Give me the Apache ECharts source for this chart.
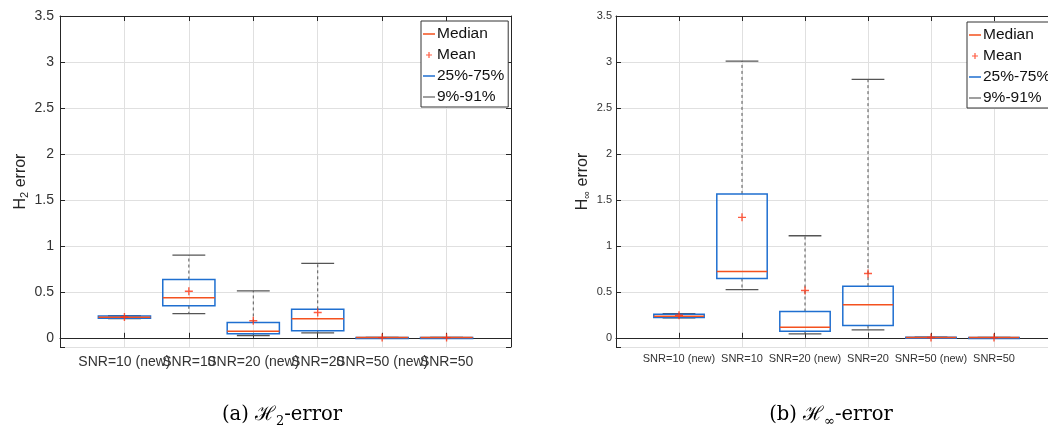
<!DOCTYPE html>
<html>
<head>
<meta charset="utf-8">
<script src="https://cdn.jsdelivr.net/npm/echarts@6/dist/echarts.min.js"></script>
<style>
html,body{margin:0;padding:0;background:#fff;}
#c{width:1048px;height:430px;}
</style>
</head>
<body>
<div id="c"></div>
<script>
const categories = ['SNR=10 (new)', 'SNR=10', 'SNR=20 (new)', 'SNR=20', 'SNR=50 (new)', 'SNR=50'];
const yTicks = [0, 0.5, 1, 1.5, 2, 2.5, 3, 3.5];

// (a) H2-error : 9%, 25%, median, 75%, 91%, mean
const h2Low    = [0.208, 0.264, 0.025, 0.054, 0.000, 0.000];
const h2Q1     = [0.212, 0.348, 0.043, 0.076, 0.001, 0.001];
const h2Median = [0.224, 0.435, 0.072, 0.207, 0.002, 0.002];
const h2Q3     = [0.237, 0.634, 0.167, 0.310, 0.003, 0.003];
const h2High   = [0.240, 0.900, 0.510, 0.810, 0.004, 0.004];
const h2Mean   = [0.226, 0.507, 0.185, 0.275, 0.002, 0.002];

// (b) Hinf-error
const hiLow    = [0.216, 0.525, 0.043, 0.087, 0.001, 0.000];
const hiQ1     = [0.221, 0.645, 0.072, 0.134, 0.002, 0.001];
const hiMedian = [0.235, 0.720, 0.116, 0.359, 0.004, 0.002];
const hiQ3     = [0.257, 1.565, 0.286, 0.562, 0.006, 0.004];
const hiHigh   = [0.264, 3.010, 1.110, 2.810, 0.008, 0.005];
const hiMean   = [0.245, 1.310, 0.514, 0.700, 0.004, 0.002];

const C_MED = '#f4511e', C_MEAN = '#ff3311', C_BOX = '#1f6fd0', C_WHISK = '#4d4d4d';
const AX = '#262626', GRIDC = '#e0e0e0';

const chart = echarts.init(document.getElementById('c'), null, {renderer: 'canvas'});

const lineIcon = 'path://M0,0h0.01v0.01h-0.01z M0,5.3h12v1.4h-12z M11.99,11.99h0.01v0.01h-0.01z';
const plusIcon = 'path://M0,0h0.01v0.01h-0.01z M5.4,3h1.2v6h-1.2z M3,5.4h6v1.2h-6z M11.99,11.99h0.01v0.01h-0.01z';
const meanSymbol = 'path://M3.3,0h1.4v8h-1.4z M0,3.3h8v1.4h-8z';

function xAxes(gi, fontSize, margin) {
  return [{
    gridIndex: gi, type: 'value', min: 0, max: 7, interval: 1, position: 'bottom',
    axisLine: {show: true, lineStyle: {color: AX, width: 1}},
    axisTick: {show: true, inside: true, length: 5, lineStyle: {color: AX}},
    splitLine: {show: true, lineStyle: {color: GRIDC, width: 1}},
    axisLabel: {
      show: true, color: '#333', fontFamily: 'Liberation Sans, Arial, sans-serif', fontSize: fontSize, margin: margin,
      formatter: v => (v >= 1 && v <= categories.length) ? categories[v - 1] : ''
    }
  }, {
    gridIndex: gi, type: 'value', min: 0, max: 7, interval: 1, position: 'top',
    axisLine: {show: true, onZero: false, lineStyle: {color: AX, width: 1}},
    axisTick: {show: true, inside: true, length: 5, lineStyle: {color: AX}},
    splitLine: {show: false}, axisLabel: {show: false}
  }];
}
function yAxes(gi, fontSize, margin, nameRich, nameGap) {
  return [{
    gridIndex: gi, type: 'value', min: -0.1, max: 3.5, minInterval: 0.5, maxInterval: 0.5, position: 'left',
    axisLine: {show: true, onZero: false, lineStyle: {color: AX, width: 1}},
    axisTick: {show: true, inside: true, length: 5, lineStyle: {color: AX}},
    splitLine: {show: true, lineStyle: {color: GRIDC, width: 1}},
    axisLabel: {
      color: '#333', fontFamily: 'Liberation Sans, Arial, sans-serif', fontSize: fontSize, margin: margin,
      formatter: v => (v < 0 ? '' : (yTicks.indexOf(Math.round(v * 10) / 10) >= 0 ? String(Math.round(v * 10) / 10) : ''))
    },
    name: nameRich.text, nameLocation: 'middle', nameRotate: 90, nameGap: nameGap,
    nameTextStyle: {rich: nameRich.rich}
  }, {
    gridIndex: gi, type: 'value', min: -0.1, max: 3.5, minInterval: 0.5, maxInterval: 0.5, position: 'right',
    axisLine: {show: true, onZero: false, lineStyle: {color: AX, width: 1}},
    axisTick: {show: true, inside: true, length: 5, lineStyle: {color: AX}},
    splitLine: {show: false}, axisLabel: {show: false}
  }];
}
const nameFont = 'Liberation Sans, Arial, sans-serif';
function subName(sub, gapDown) {
  return {
    text: '{a|H}{s|' + sub + '}{a| error}',
    rich: {
      a: {fontSize: 16, fontFamily: nameFont, color: '#262626', lineHeight: 20, verticalAlign: 'middle'},
      s: {fontSize: 11, fontFamily: nameFont, color: '#262626', lineHeight: gapDown, verticalAlign: 'bottom'}
    }
  };
}

function buildSeries(xi, yi, low, q1, med, q3, high, mean, capHalf, boxHalf) {
  const rows = categories.map((c, i) => [i + 1, low[i], q1[i], med[i], q3[i], high[i]]);
  return [{
    name: '9%-91%', type: 'custom', xAxisIndex: xi, yAxisIndex: yi, z: 2,
    itemStyle: {color: C_WHISK},
    data: rows,
    renderItem: (params, api) => {
      const x = api.value(0);
      const pLo = api.coord([x, api.value(1)]);
      const pQ1 = api.coord([x, api.value(2)]);
      const pQ3 = api.coord([x, api.value(4)]);
      const pHi = api.coord([x, api.value(5)]);
      const cl = api.coord([x - capHalf, 0])[0], cr = api.coord([x + capHalf, 0])[0];
      const dash = {stroke: '#555', lineWidth: 1, lineDash: [3, 3]};
      const solid = {stroke: '#555', lineWidth: 1.3};
      return {type: 'group', children: [
        {type: 'line', shape: {x1: pQ3[0], y1: pQ3[1], x2: pHi[0], y2: pHi[1]}, style: dash},
        {type: 'line', shape: {x1: pQ1[0], y1: pQ1[1], x2: pLo[0], y2: pLo[1]}, style: dash},
        {type: 'line', shape: {x1: cl, y1: pHi[1], x2: cr, y2: pHi[1]}, style: solid},
        {type: 'line', shape: {x1: cl, y1: pLo[1], x2: cr, y2: pLo[1]}, style: solid}
      ]};
    }
  }, {
    name: '25%-75%', type: 'custom', xAxisIndex: xi, yAxisIndex: yi, z: 3,
    itemStyle: {color: C_BOX},
    data: rows,
    renderItem: (params, api) => {
      const x = api.value(0);
      const a = api.coord([x - boxHalf, api.value(4)]);
      const b = api.coord([x + boxHalf, api.value(2)]);
      return {type: 'rect', shape: {x: a[0], y: a[1], width: b[0] - a[0], height: Math.max(b[1] - a[1], 1)},
        style: {fill: 'none', stroke: C_BOX, lineWidth: 1.5}};
    }
  }, {
    name: 'Median', type: 'custom', xAxisIndex: xi, yAxisIndex: yi, z: 4,
    itemStyle: {color: C_MED},
    data: rows,
    renderItem: (params, api) => {
      const x = api.value(0);
      const a = api.coord([x - boxHalf, api.value(3)]);
      const b = api.coord([x + boxHalf, api.value(3)]);
      return {type: 'line', shape: {x1: a[0], y1: a[1], x2: b[0], y2: b[1]}, style: {stroke: C_MED, lineWidth: 1.5}};
    }
  }, {
    name: 'Mean', type: 'scatter', xAxisIndex: xi, yAxisIndex: yi, z: 5,
    symbol: meanSymbol, symbolSize: 8, itemStyle: {color: C_MEAN},
    data: categories.map((c, i) => [i + 1, mean[i]])
  }];
}

function legendAt(left, top) {
  return {
    left: left, top: top, orient: 'vertical', selectedMode: false,
    backgroundColor: '#fff', borderColor: '#333', borderWidth: 1, borderRadius: 0,
    padding: [5, 4, 2, 2], itemGap: 5, itemWidth: 12, itemHeight: 12,
    textStyle: {fontSize: 15.5, fontFamily: 'Liberation Sans, Arial, sans-serif', color: '#111', padding: [0, 0, 0, -3]},
    itemStyle: {borderWidth: 0},
    data: [
      {name: 'Median', icon: lineIcon, itemStyle: {color: C_MED, borderWidth: 0}},
      {name: 'Mean', icon: plusIcon, itemStyle: {color: C_MEAN, borderWidth: 0}},
      {name: '25%-75%', icon: lineIcon, itemStyle: {color: C_BOX, borderWidth: 0}},
      {name: '9%-91%', icon: lineIcon, itemStyle: {color: '#808080', borderWidth: 0}}
    ]
  };
}

const SERIF = 'DejaVu Serif, Liberation Serif, serif';
const capRich = {
  t: {fontSize: 19.5, fontFamily: SERIF, color: '#000', lineHeight: 26, verticalAlign: 'middle'},
  h: {fontSize: 19.5, fontFamily: SERIF, color: '#000', lineHeight: 26, verticalAlign: 'middle'},
  s: {fontSize: 13, fontFamily: SERIF, color: '#000', lineHeight: 15, verticalAlign: 'bottom'}
};

const option = {
  animation: false,
  backgroundColor: '#fff',
  grid: [
    {left: 60, top: 16, width: 451, height: 331, outerBoundsMode: 'none'},
    {left: 616, top: 16, width: 441, height: 331, outerBoundsMode: 'none'}
  ],
  xAxis: [].concat(xAxes(0, 14, 8), xAxes(1, 11, 6)),
  yAxis: [].concat(yAxes(0, 14, 6, subName('2', 10), 28), yAxes(1, 11, 4, subName('∞', 8), 22)),
  legend: [legendAt(421, 21), legendAt(967, 22)],
  series: [].concat(
    buildSeries(0, 0, h2Low, h2Q1, h2Median, h2Q3, h2High, h2Mean, 0.255, 0.405),
    buildSeries(2, 2, hiLow, hiQ1, hiMedian, hiQ3, hiHigh, hiMean, 0.26, 0.4)
  ),
  graphic: [
    {type: 'text', x: 282, y: 415, style: {text: '{t|(a) }{h|ℋ}{s|2}{t|-error}', rich: capRich, align: 'center', verticalAlign: 'middle'}},
    {type: 'text', x: 831, y: 415, style: {text: '{t|(b) }{h|ℋ}{s|∞}{t|-error}', rich: capRich, align: 'center', verticalAlign: 'middle'}}
  ]
};
chart.setOption(option);
</script>
</body>
</html>
